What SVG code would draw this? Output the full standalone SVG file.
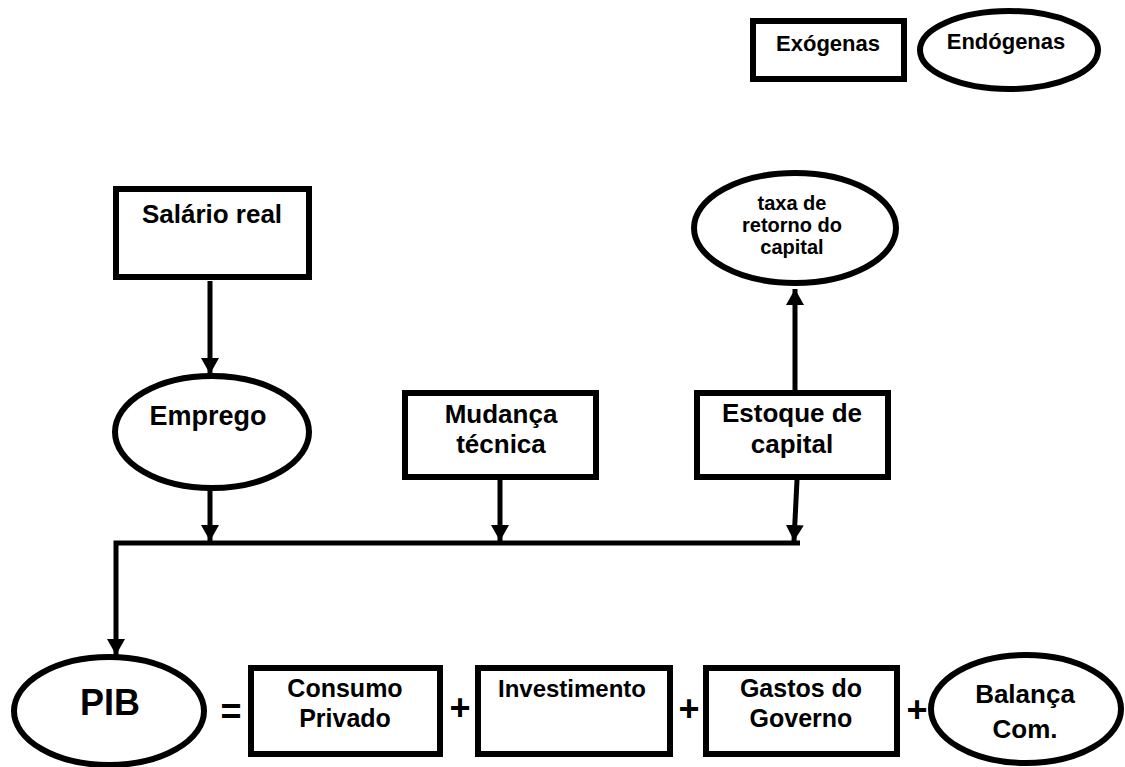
<svg xmlns="http://www.w3.org/2000/svg" width="1125" height="767" viewBox="0 0 1125 767">
<style>
.n{fill:#fff;stroke:#000;stroke-width:6}
.t{font-family:"Liberation Sans",Arial,sans-serif;font-weight:bold;fill:#000;text-anchor:middle}
.c{stroke:#000;stroke-width:5;fill:none}
</style>
<defs>
<marker id="ah" viewBox="0 0 16 18" refX="16" refY="9" markerWidth="16" markerHeight="18" markerUnits="userSpaceOnUse" orient="auto">
<path d="M0,0 L16,9 L0,18 Z" fill="#000"/>
</marker>
</defs>
<rect width="1125" height="767" fill="#fff"/>
<g id="legend-exogenas"><rect class="n" x="753" y="21" width="151" height="58"/><text class="t" x="828" y="51" font-size="22">Exógenas</text></g>
<g id="legend-endogenas"><ellipse class="n" cx="1009" cy="50" rx="89" ry="39"/><text class="t" x="1006" y="49" font-size="22">Endógenas</text></g>
<g id="salario"><rect class="n" x="116" y="189" width="193" height="88"/><text class="t" x="212" y="223" font-size="26">Salário real</text></g>
<g id="taxa"><ellipse class="n" cx="795" cy="228" rx="101" ry="55"/><text class="t" font-size="20"><tspan x="792" y="210">taxa de</tspan><tspan x="792" y="232">retorno do</tspan><tspan x="792" y="254">capital</tspan></text></g>
<g id="emprego"><ellipse class="n" cx="212" cy="432" rx="97" ry="56"/><text class="t" x="208" y="425" font-size="27">Emprego</text></g>
<g id="mudanca"><rect class="n" x="405" y="393" width="191" height="84"/><text class="t" font-size="26"><tspan x="501" y="423">Mudança</tspan><tspan x="501" y="453">técnica</tspan></text></g>
<g id="estoque"><rect class="n" x="697" y="393" width="191" height="84"/><text class="t" font-size="26"><tspan x="792" y="422">Estoque de</tspan><tspan x="792" y="453">capital</tspan></text></g>
<g id="pib"><ellipse class="n" cx="109" cy="711" rx="95" ry="54"/><text class="t" x="110" y="715" font-size="36">PIB</text></g>
<g id="consumo"><rect class="n" x="251" y="668" width="189" height="86"/><text class="t" font-size="25"><tspan x="345" y="697">Consumo</tspan><tspan x="345" y="727">Privado</tspan></text></g>
<g id="investimento"><rect class="n" x="478" y="668" width="192" height="86"/><text class="t" x="572" y="697" font-size="24">Investimento</text></g>
<g id="gastos"><rect class="n" x="706" y="668" width="191" height="86"/><text class="t" font-size="25"><tspan x="801" y="697">Gastos do</tspan><tspan x="801" y="727">Governo</tspan></text></g>
<g id="balanca"><ellipse class="n" cx="1026" cy="709" rx="95" ry="54"/><text class="t" font-size="26"><tspan x="1025" y="703">Balança</tspan><tspan x="1025" y="738">Com.</tspan></text></g>
<g id="operators" class="t" font-size="36"><text x="231" y="724">=</text><text x="460" y="720">+</text><text x="689" y="721">+</text><text x="917" y="722">+</text></g>
<g id="connectors">
<line class="c" x1="210" y1="281" x2="210" y2="374" marker-end="url(#ah)"/>
<line class="c" x1="795" y1="390" x2="795" y2="289" marker-end="url(#ah)"/>
<line class="c" x1="210" y1="490" x2="210" y2="541" marker-end="url(#ah)"/>
<line class="c" x1="500" y1="480" x2="500" y2="541" marker-end="url(#ah)"/>
<line class="c" x1="797" y1="480" x2="794" y2="541" marker-end="url(#ah)"/>
<polyline class="c" points="800,543 116,543 116,655" marker-end="url(#ah)"/>
</g>
</svg>
